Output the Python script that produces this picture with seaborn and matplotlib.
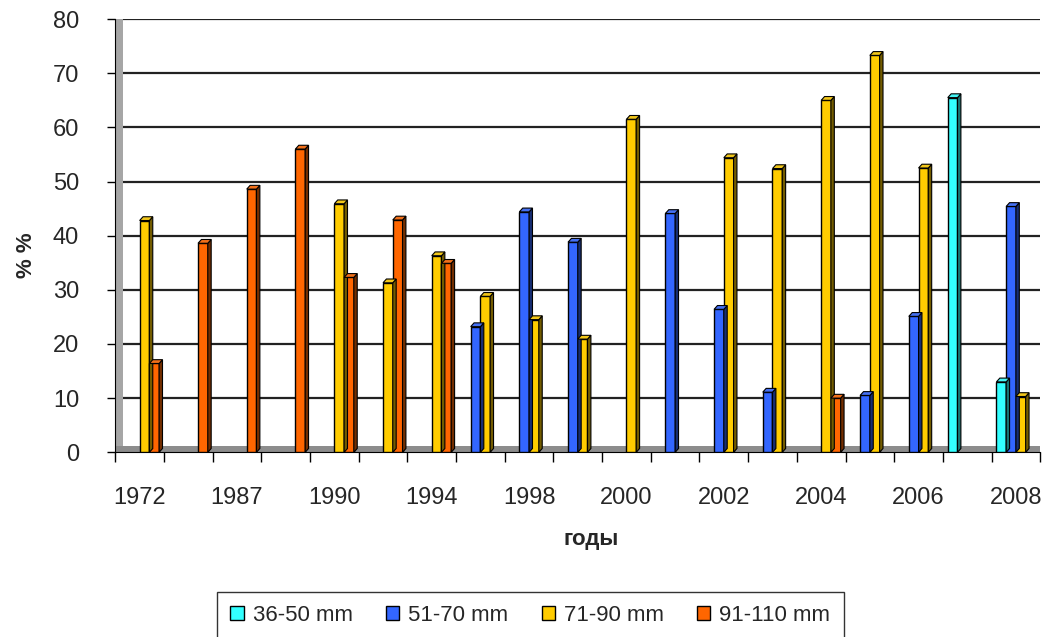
import pandas as pd
import matplotlib
matplotlib.use("Agg")
import matplotlib.pyplot as plt
from matplotlib.patches import Polygon
import seaborn as sns

# данные (оценка по рисунку)
years = ["1972", "1986", "1987", "1989", "1990", "1992", "1994", "1996", "1998", "1999",
         "2000", "2001", "2002", "2003", "2004", "2005", "2006", "2007", "2008"]
shown_labels = ["1972", "", "1987", "", "1990", "", "1994", "", "1998", "",
                "2000", "", "2002", "", "2004", "", "2006", "", "2008"]
sizes = ["36-50 mm", "51-70 mm", "71-90 mm", "91-110 mm"]
v_36_50 = [None, None, None, None, None, None, None, None, None, None,
           None, None, None, None, None, None, None, 65.5, 13.0]
v_51_70 = [None, None, None, None, None, None, None, 23.2, 44.4, 38.8,
           None, 44.1, 26.4, 11.1, None, 10.5, 25.1, None, 45.4]
v_71_90 = [42.8, None, None, None, 45.9, 31.3, 36.3, 28.8, 24.5, 20.9,
           61.5, None, 54.4, 52.4, 65.0, 73.3, 52.5, None, 10.3]
v_91_110 = [16.4, 38.6, 48.6, 56.0, 32.3, 42.9, 34.9, None, None, None,
            None, None, None, None, 10.0, None, None, None, None]
colors = ["#33FFFF", "#3366FF", "#FFCC00", "#FF6600"]

rows = []
for s, vals in zip(sizes, [v_36_50, v_51_70, v_71_90, v_91_110]):
    for y, v in zip(years, vals):
        if v is not None:
            rows.append({"год": y, "размер": s, "value": v})
df = pd.DataFrame(rows)

sns.set_style("white")
plt.rcParams["font.family"] = ["Liberation Sans", "DejaVu Sans"]

fig = plt.figure(figsize=(10.48, 6.37), dpi=100)
ax = fig.add_axes([0.110, 0.290, 0.8826, 0.680])

sns.barplot(data=df, x="год", y="value", hue="размер", order=years, hue_order=sizes,
            palette=colors, width=0.8, edgecolor="black", linewidth=1.0,
            saturation=1, ax=ax, zorder=3)

# псевдо-3D грани у столбиков
dx, dy = 0.07, 0.7
for bar in ax.patches:
    h = bar.get_height()
    if h is None or h <= 0:
        continue
    x0 = bar.get_x()
    w = bar.get_width()
    fc = bar.get_facecolor()
    dark = tuple(c * 0.45 for c in fc[:3])
    light = tuple(min(1, c * 0.85 + 0.1) for c in fc[:3])
    side = Polygon([(x0 + w, 0), (x0 + w + dx, dy), (x0 + w + dx, h + dy), (x0 + w, h)],
                   closed=True, facecolor=dark, edgecolor="black", lw=0.8, zorder=3)
    top = Polygon([(x0, h), (x0 + dx, h + dy), (x0 + w + dx, h + dy), (x0 + w, h)],
                  closed=True, facecolor=light, edgecolor="black", lw=0.8, zorder=3)
    ax.add_patch(side)
    ax.add_patch(top)

ax.set_xlim(-0.5, len(years) - 0.5)
ax.set_ylim(0, 80)
ax.set_yticks(range(0, 81, 10))
ax.yaxis.grid(True, color="#222222", lw=1.6, zorder=0)
ax.set_axisbelow(True)

# серые "стенка" и "пол"
ax.axvspan(-0.5, -0.35, color="#A6A6A6", zorder=1, lw=0)
ax.axhspan(0, 1.1, color="#8C8C8C", zorder=1, lw=0)

ax.set_xticks(range(len(years)))
ax.set_xticklabels(shown_labels, fontsize=17)
ax.set_xticks([i - 0.5 for i in range(len(years) + 1)], minor=True)
ax.tick_params(axis="x", which="major", length=0, pad=25)
ax.tick_params(axis="x", which="minor", bottom=True, length=7, width=1,
               color="black", direction="out")
ax.tick_params(axis="y", length=6, width=1, color="black", direction="out",
               labelsize=17, left=True, pad=20)

for side_name in ["top", "right"]:
    ax.spines[side_name].set_visible(False)
ax.spines["left"].set_color("black")
ax.spines["bottom"].set_color("black")

ax.set_xlabel("годы", fontsize=16, fontweight="bold")
ax.set_ylabel("% %", fontsize=16, fontweight="bold")
ax.xaxis.set_label_coords(0.514, -0.178)
ax.yaxis.set_label_coords(-0.085, 0.455)

sns.move_legend(ax, "upper center", bbox_to_anchor=(0.506, 0.071),
                bbox_transform=fig.transFigure, ncol=4, title=None, frameon=True,
                fancybox=False, fontsize=16, handlelength=0.6, handleheight=0.6,
                handletextpad=0.4, columnspacing=1.5, borderpad=0.6, borderaxespad=0)
leg = ax.get_legend()
leg.get_frame().set_edgecolor("black")
leg.get_frame().set_linewidth(1.0)

fig.savefig("out.png", dpi=100)
